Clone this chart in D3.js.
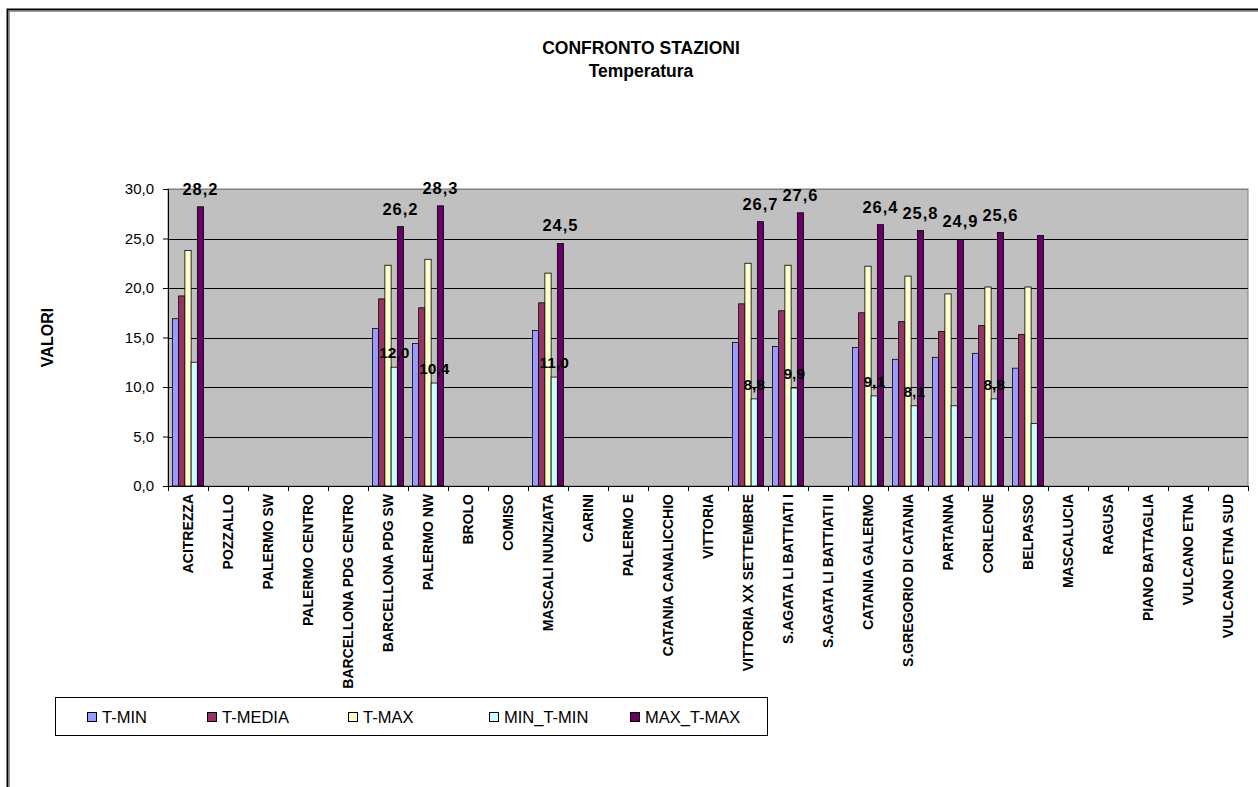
<!DOCTYPE html>
<html><head><meta charset="utf-8">
<script src="https://cdn.jsdelivr.net/npm/d3@7"></script>
<style>
html,body{margin:0;padding:0;background:#fff;}
svg{display:block;font-family:Arial,"Liberation Sans",sans-serif;}
</style></head>
<body>
<svg id="chart" width="1258" height="787"></svg>
<script>
// ---- data ----
const categories = ["ACITREZZA","POZZALLO","PALERMO SW","PALERMO CENTRO","BARCELLONA PDG CENTRO","BARCELLONA PDG SW","PALERMO NW","BROLO","COMISO","MASCALI NUNZIATA","CARINI","PALERMO E","CATANIA CANALICCHIO","VITTORIA","VITTORIA XX SETTEMBRE","S.AGATA LI BATTIATI I","S.AGATA LI BATTIATI II","CATANIA GALERMO","S.GREGORIO DI CATANIA","PARTANNA","CORLEONE","BELPASSO","MASCALUCIA","RAGUSA","PIANO BATTAGLIA","VULCANO ETNA","VULCANO ETNA SUD"];
const seriesNames = ["T-MIN","T-MEDIA","T-MAX","MIN_T-MIN","MAX_T-MAX"];
const seriesColors = ["#9999FF","#993366","#FFFFCC","#CCFFFF","#660066"];
const tMin    = [16.9,null,null,null,null,15.9,14.4,null,null,15.7,null,null,null,null,14.5,14.1,null,14.0,12.8,13.0,13.4,11.9,null,null,null,null,null];
const tMedia  = [19.2,null,null,null,null,18.9,18.0,null,null,18.5,null,null,null,null,18.4,17.7,null,17.5,16.6,15.6,16.2,15.3,null,null,null,null,null];
const tMax    = [23.8,null,null,null,null,22.3,22.9,null,null,21.5,null,null,null,null,22.5,22.3,null,22.2,21.2,19.4,20.1,20.1,null,null,null,null,null];
const minTMin = [12.5,null,null,null,null,12.0,10.4,null,null,11.0,null,null,null,null,8.8,9.9,null,9.1,8.1,8.1,8.8,6.3,null,null,null,null,null];
const maxTMax = [28.2,null,null,null,null,26.2,28.3,null,null,24.5,null,null,null,null,26.7,27.6,null,26.4,25.8,24.9,25.6,25.3,null,null,null,null,null];
const minLabelled = ["BARCELLONA PDG SW","PALERMO NW","MASCALI NUNZIATA","VITTORIA XX SETTEMBRE","S.AGATA LI BATTIATI I","CATANIA GALERMO","S.GREGORIO DI CATANIA","CORLEONE"];
const maxLabelled = ["ACITREZZA","BARCELLONA PDG SW","PALERMO NW","MASCALI NUNZIATA","VITTORIA XX SETTEMBRE","S.AGATA LI BATTIATI I","CATANIA GALERMO","S.GREGORIO DI CATANIA","PARTANNA","CORLEONE"];
const yTicks = [0,5,10,15,20,25,30];
const titleLines = ["CONFRONTO STAZIONI","Temperatura"];
const yTitle = "VALORI";

const seriesValues = [tMin, tMedia, tMax, minTMin, maxTMax];

// ---- layout ----
const svg = d3.select("#chart");
const plot = {left:168, right:1248, top:189, bottom:486};
const fmt = v => d3.format(".1f")(v).replace(".", ",");

// outer frame
svg.append("rect").attr("x",7.5).attr("y",9.5).attr("width",1400).attr("height",1000)
  .attr("fill","none").attr("stroke","#000").attr("stroke-width",2);
svg.append("line").attr("x1",9).attr("x2",1258).attr("y1",11.5).attr("y2",11.5).attr("stroke","#999").attr("stroke-width",1);
svg.append("line").attr("x1",9.5).attr("x2",9.5).attr("y1",11).attr("y2",787).attr("stroke","#999").attr("stroke-width",1);

const x0 = d3.scaleBand().domain(categories).range([plot.left, plot.right]).paddingInner(0.22).paddingOuter(0.11);
const x1 = d3.scaleBand().domain(seriesNames).range([0, x0.bandwidth()]);
const y = d3.scaleLinear().domain([0,30]).range([plot.bottom, plot.top]);

// plot bg
svg.append("rect").attr("x",plot.left).attr("y",plot.top).attr("width",plot.right-plot.left).attr("height",plot.bottom-plot.top)
  .attr("fill","#C0C0C0").attr("stroke","#808080").attr("stroke-width",1);

// gridlines
svg.append("g").selectAll("line").data(yTicks.filter(t=>t>0)).join("line")
  .attr("x1",plot.left).attr("x2",plot.right)
  .attr("y1",d=>Math.round(y(d))+0.5).attr("y2",d=>Math.round(y(d))+0.5)
  .attr("stroke",d=>d===30?"#808080":"#000").attr("stroke-width",1);

// bars
const rows = [];
categories.forEach((c,i)=>{
  seriesNames.forEach((s,j)=>{
    const v = seriesValues[j][i];
    if(v!=null) rows.push({cat:c, series:s, j, v});
  });
});
svg.append("g").selectAll("rect").data(rows).join("rect")
  .attr("x",d=>x0(d.cat)+x1(d.series))
  .attr("y",d=>y(d.v))
  .attr("width",x1.bandwidth())
  .attr("height",d=>y(0)-y(d.v))
  .attr("fill",d=>seriesColors[d.j])
  .attr("stroke","#000").attr("stroke-width",0.8);

// y axis
const yAxis = d3.axisLeft(y).tickValues(yTicks).tickSize(5).tickFormat(fmt);
const gy = svg.append("g").attr("transform",`translate(${plot.left},0)`).call(yAxis);
gy.select(".domain").attr("stroke","#000");
gy.selectAll(".tick line").attr("stroke","#000");
gy.selectAll(".tick text").attr("font-size",15).attr("fill","#000").attr("x",-14).attr("font-family","Arial, 'Liberation Sans', sans-serif");

// x axis: ticks at category boundaries
svg.append("line").attr("x1",plot.left).attr("x2",plot.right).attr("y1",plot.bottom+0.5).attr("y2",plot.bottom+0.5).attr("stroke","#000");
const step = x0.step();
svg.append("g").selectAll("line").data(d3.range(categories.length+1)).join("line")
  .attr("x1",d=>Math.round(plot.left+d*step)+0.5).attr("x2",d=>Math.round(plot.left+d*step)+0.5)
  .attr("y1",plot.bottom).attr("y2",plot.bottom+5).attr("stroke","#000");
svg.append("g").selectAll("text").data(categories).join("text")
  .attr("transform",d=>`translate(${x0(d)+x0.bandwidth()/2+5},${plot.bottom+8}) rotate(-90)`)
  .attr("text-anchor","end").attr("font-size",14).attr("font-weight","bold").attr("fill","#000")
  .text(d=>d);

// data labels
const maxRows = rows.filter(d=>d.j===4 && maxLabelled.includes(d.cat));
svg.append("g").selectAll("text").data(maxRows).join("text")
  .attr("x",d=>x0(d.cat)+x1(d.series)+x1.bandwidth()/2)
  .attr("y",d=>y(d.v)-12)
  .attr("text-anchor","middle").attr("font-size",16.5).attr("font-weight","bold").attr("letter-spacing",1)
  .text(d=>fmt(d.v));
const minRows = rows.filter(d=>d.j===3 && minLabelled.includes(d.cat));
svg.append("g").selectAll("text").data(minRows).join("text")
  .attr("x",d=>x0(d.cat)+x1(d.series)+x1.bandwidth()/2)
  .attr("y",d=>y(d.v)-9)
  .attr("text-anchor","middle").attr("font-size",15.5).attr("font-weight","bold")
  .text(d=>fmt(d.v));

// titles
svg.append("g").selectAll("text").data(titleLines).join("text")
  .attr("x",641).attr("y",(d,i)=>54+i*23)
  .attr("text-anchor","middle").attr("font-size",17.5).attr("font-weight","bold").text(d=>d);

svg.append("text").attr("transform",`translate(53,${(plot.top+plot.bottom)/2}) rotate(-90)`)
  .attr("text-anchor","middle").attr("font-size",16).attr("font-weight","bold").text(yTitle);

// legend
const lg = svg.append("g");
lg.append("rect").attr("x",55.5).attr("y",697.5).attr("width",712).attr("height",38)
  .attr("fill","#fff").attr("stroke","#000").attr("stroke-width",1);
const legendX = seriesNames.map((s,i)=>87 + i*141 - (i>0?21:0));
const items = lg.selectAll("g").data(seriesNames).join("g")
  .attr("transform",(d,i)=>`translate(${legendX[i]},712)`);
items.append("rect").attr("x",0.5).attr("y",0.5).attr("width",9).attr("height",9)
  .attr("fill",(d,i)=>seriesColors[i]).attr("stroke","#000");
items.append("text").attr("x",15).attr("y",11).attr("font-size",16.5).text(d=>d);
</script>
</body></html>
